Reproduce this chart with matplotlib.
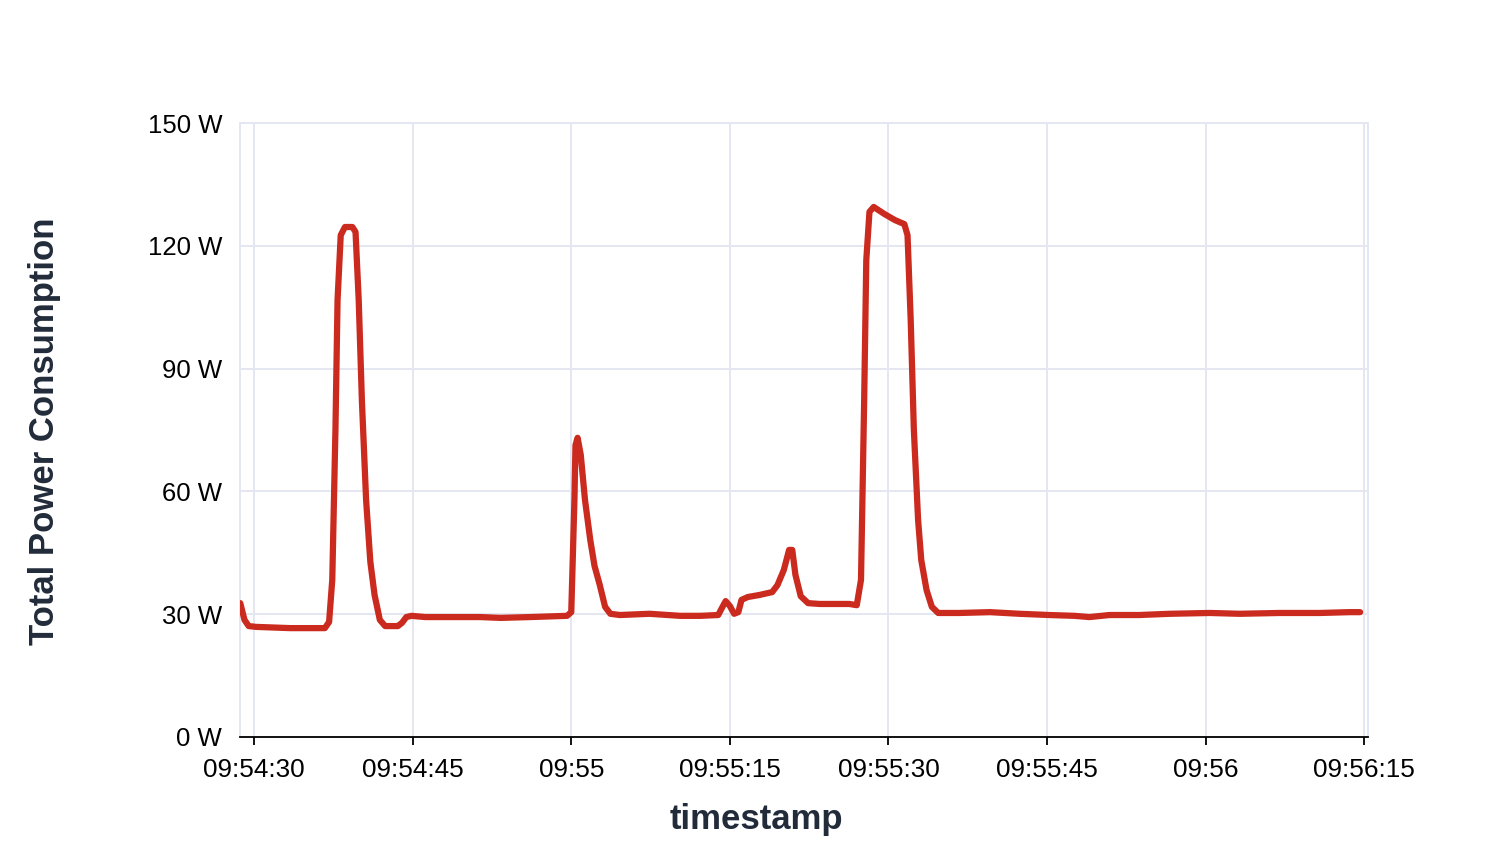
import matplotlib
matplotlib.use('Agg')
import matplotlib.pyplot as plt
import matplotlib.dates as mdates
import pandas as pd
from matplotlib.ticker import FuncFormatter

plt.rcParams['font.family'] = ['Liberation Sans', 'DejaVu Sans']

# ── data ──
times = [
    '09:54:28.7', '09:54:29.1', '09:54:29.5', '09:54:30.2', '09:54:33.4', '09:54:36.7',
    '09:54:37.1', '09:54:37.4', '09:54:37.7', '09:54:37.9', '09:54:38.2', '09:54:38.6',
    '09:54:39.3', '09:54:39.6', '09:54:39.9', '09:54:40.2', '09:54:40.6', '09:54:41.0',
    '09:54:41.4', '09:54:41.9', '09:54:42.4', '09:54:43.6', '09:54:44.0', '09:54:44.4',
    '09:54:44.9', '09:54:46.2', '09:54:48.5', '09:54:51.4', '09:54:53.3', '09:54:56.1',
    '09:54:59.6', '09:55:00.0', '09:55:00.3', '09:55:00.4', '09:55:00.6', '09:55:00.9',
    '09:55:01.3', '09:55:01.8', '09:55:02.2', '09:55:02.7', '09:55:03.2', '09:55:03.7',
    '09:55:04.6', '09:55:07.4', '09:55:10.3', '09:55:12.2', '09:55:13.9', '09:55:14.2',
    '09:55:14.6', '09:55:15.0', '09:55:15.4', '09:55:15.8', '09:55:16.1', '09:55:16.7',
    '09:55:17.8', '09:55:19.0', '09:55:19.5', '09:55:20.1', '09:55:20.6', '09:55:20.9',
    '09:55:21.2', '09:55:21.7', '09:55:22.4', '09:55:23.5', '09:55:26.3', '09:55:27.0',
    '09:55:27.4', '09:55:27.7', '09:55:27.9', '09:55:28.2', '09:55:28.6', '09:55:29.6',
    '09:55:30.6', '09:55:31.5', '09:55:31.8', '09:55:32.1', '09:55:32.4', '09:55:32.8',
    '09:55:33.1', '09:55:33.6', '09:55:34.1', '09:55:34.7', '09:55:36.7', '09:55:39.6',
    '09:55:42.4', '09:55:45.2', '09:55:47.6', '09:55:49.0', '09:55:50.9', '09:55:53.7',
    '09:55:56.6', '09:56:00.4', '09:56:03.2', '09:56:07.0', '09:56:10.8', '09:56:13.6',
    '09:56:14.6',
]
power = [
    32.7, 28.6, 27.1, 26.9, 26.6, 26.6,
    28.1, 38.4, 75.0, 106.8, 122.6, 124.6,
    124.6, 123.4, 106.8, 82.3, 57.9, 42.8,
    34.7, 28.6, 27.1, 27.1, 27.9, 29.3,
    29.6, 29.3, 29.3, 29.3, 29.1, 29.3,
    29.6, 30.5, 57.9, 71.3, 73.1, 68.9,
    57.9, 48.1, 41.8, 37.1, 31.8, 30.1,
    29.8, 30.1, 29.6, 29.6, 29.8, 31.3,
    33.2, 32.0, 30.1, 30.5, 33.5, 34.2,
    34.7, 35.4, 37.1, 40.8, 45.7, 45.7,
    39.6, 34.4, 32.7, 32.5, 32.5, 32.2,
    38.4, 82.3, 116.5, 128.3, 129.5, 127.8,
    126.3, 125.3, 122.6, 101.9, 75.0, 53.0,
    43.2, 35.9, 31.8, 30.3, 30.3, 30.5,
    30.1, 29.8, 29.6, 29.3, 29.8, 29.8,
    30.1, 30.3, 30.1, 30.3, 30.3, 30.5,
    30.5,
]
x_ticks = ['09:54:30', '09:54:45', '09:55:00', '09:55:15', '09:55:30',
           '09:55:45', '09:56:00', '09:56:15']
y_ticks = [0, 30, 60, 90, 120, 150]

day = '2024-01-01 '
ts = pd.to_datetime([day + t for t in times])
tick_ts = pd.to_datetime([day + t for t in x_ticks])

fig = plt.figure(figsize=(15.06, 8.64), dpi=100)
ax = fig.add_axes([0.1594, 0.147, 0.749, 0.7106])

grid_c = '#e4e7f1'
ax.plot(ts, power, color='#cb2a1f', linewidth=4.5, solid_joinstyle='round',
        solid_capstyle='round', zorder=3)

ax.set_xlim(pd.Timestamp(day + '09:54:28.68'), pd.Timestamp(day + '09:56:15.35'))
ax.set_ylim(0, 150)
ax.set_xticks(tick_ts)
ax.set_yticks(y_ticks)


def fmt_time(v, pos):
    d = mdates.num2date(v)
    return d.strftime('%H:%M') if d.second == 0 else d.strftime('%H:%M:%S')


ax.xaxis.set_major_formatter(FuncFormatter(fmt_time))
ax.yaxis.set_major_formatter(FuncFormatter(lambda v, p: f'{int(v)} W'))

ax.grid(True, color=grid_c, linewidth=1.4, zorder=0)
ax.set_axisbelow(True)
for side in ['top', 'left', 'right']:
    ax.spines[side].set_color(grid_c)
    ax.spines[side].set_linewidth(1.4)
ax.spines['bottom'].set_color('black')
ax.spines['bottom'].set_linewidth(1.3)

ax.tick_params(axis='x', length=6, width=1.3, color='black', labelsize=18.8, pad=9)
ax.tick_params(axis='y', length=0, labelsize=18.5, pad=13)

ax.set_xlabel('timestamp', fontsize=25, fontweight='bold', color='#222b3a', va='center')
ax.set_ylabel('Total Power Consumption', fontsize=25, fontweight='bold', color='#222b3a',
              va='center')
ax.xaxis.set_label_coords(0.458, -0.135)
ax.yaxis.set_label_coords(-0.173, 0.498)

plt.savefig('out.png', dpi=100, facecolor='white')
